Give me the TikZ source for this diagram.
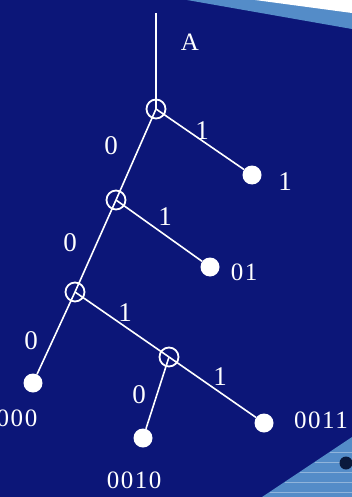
\documentclass[tikz,border=0pt]{standalone}
\usepackage{fontspec}
\setmainfont{Liberation Serif}
\newfontfamily\lblfont[LetterSpace=6]{Liberation Serif}
\begin{document}
\begin{tikzpicture}[x=1pt,y=-1pt,
  inner/.style={circle,draw=white,line width=1.8pt,minimum size=19pt,inner sep=0pt},
  leaf/.style={circle,fill=white,minimum size=19pt,inner sep=0pt},
  edge/.style={draw=white,line width=1.6pt},
  lbl/.style={text=white,font=\lblfont\fontsize{25}{25}\selectfont,inner sep=0pt},
  elbl/.style={text=white,font=\lblfont\fontsize{27}{27}\selectfont,inner sep=0pt}]
\definecolor{bgblue}{RGB}{12,22,120}
\definecolor{lightblue}{RGB}{84,140,200}
\definecolor{dotdark}{RGB}{10,25,60}
\useasboundingbox (0,0) rectangle (352,497);
\fill[bgblue] (0,0) rectangle (352,497);
% top-right corner
\fill[lightblue] (187,0) -- (352,0) -- (352,29) -- cycle;
\fill[white] (255,0) -- (352,0) -- (352,13) -- cycle;
% bottom-right corner
\fill[lightblue] (262,497) -- (352,437) -- (352,497) -- cycle;
\foreach \yy in {452,462,472,482,492}{\draw[white!70!lightblue,line width=0.4pt,opacity=0.5] ({262+1.5*(497-\yy)},\yy) -- (352,\yy);}
\fill[dotdark] (346,463) circle (6.5);
% nodes
\coordinate (top) at (156,13);
\node[inner] (n1) at (156,109) {};
\node[inner] (n2) at (116,200) {};
\node[inner] (n3) at (75,292) {};
\node[inner] (n4) at (169,357) {};
\node[leaf] (l1) at (252,175) {};
\node[leaf] (l01) at (210,267) {};
\node[leaf] (l000) at (33,383) {};
\node[leaf] (l0010) at (143,438) {};
\node[leaf] (l0011) at (264,423) {};
% edges
\draw[edge] (top) -- (n1.center);
\draw[edge] (n1.center) -- (n2.center);
\draw[edge] (n1.center) -- (l1);
\draw[edge] (n2.center) -- (n3.center);
\draw[edge] (n2.center) -- (l01);
\draw[edge] (n3.center) -- (l000);
\draw[edge] (n3.center) -- (n4.center);
\draw[edge] (n4.center) -- (l0010);
\draw[edge] (n4.center) -- (l0011);
% labels
\node[lbl] (tA) at (190,42) {A};
\node[elbl] (e1) at (202,131) {1};
\node[elbl] (e2) at (111,146) {0};
\node[elbl] (e3) at (165,217) {1};
\node[elbl] (e4) at (70,243) {0};
\node[elbl] (e5) at (125,313) {1};
\node[elbl] (e6) at (31,341) {0};
\node[elbl] (e7) at (139,395) {0};
\node[elbl] (e8) at (220,377) {1};
\node[elbl] (t1) at (285,182) {1};
\node[lbl] (t01) at (244,272) {01};
\node[lbl] (t000) at (17,418) {000};
\node[lbl] (t0010) at (134,480) {0010};
\node[lbl] (t0011) at (321,420) {0011};
\end{tikzpicture}
\end{document}
